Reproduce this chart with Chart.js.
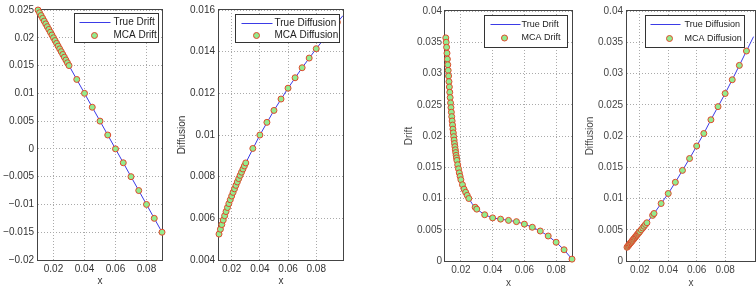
<!DOCTYPE html>
<html>
<head>
<meta charset="utf-8">
<script src="https://cdn.jsdelivr.net/npm/chart.js@4.4.0/dist/chart.umd.min.js"></script>
<style>
html, body { margin: 0; padding: 0; background: #fff; overflow: hidden; }
#wrap { position: relative; width: 756px; height: 296px; overflow: hidden; }
#wrap canvas { position: absolute; top: 0; }
</style>
</head>
<body>
<div id="wrap">
  <canvas id="c1" width="170" height="296" style="left:0px"></canvas>
  <canvas id="c2" width="180" height="296" style="left:172px"></canvas>
  <canvas id="c3" width="182" height="296" style="left:398px"></canvas>
  <canvas id="c4" width="180" height="296" style="left:580px"></canvas>
</div>
<script>
// ---- data ----
// panel 1 : linear drift
var trueDriftX1 = [0.010, 0.090];
var trueDriftY1 = [0.025, -0.015];
var mcaDriftX1 = [0.010, 0.011, 0.012, 0.013, 0.014, 0.015, 0.016, 0.017, 0.018, 0.019, 0.020,
  0.021, 0.022, 0.023, 0.024, 0.025, 0.026, 0.027, 0.028, 0.029, 0.030,
  0.035, 0.040, 0.045, 0.050, 0.055, 0.060, 0.065, 0.070, 0.075, 0.080, 0.085, 0.090];
var mcaDriftY1 = [0.025, 0.0245, 0.024, 0.0235, 0.023, 0.0225, 0.022, 0.0215, 0.021, 0.0205, 0.020,
  0.0195, 0.019, 0.0185, 0.018, 0.0175, 0.017, 0.0165, 0.016, 0.0155, 0.015,
  0.0125, 0.010, 0.0075, 0.005, 0.0025, 0, -0.0025, -0.005, -0.0075, -0.010, -0.0125, -0.015];

// panel 2 : diffusion
var trueDiffX2 = [0.011, 0.015, 0.020, 0.025, 0.030, 0.040, 0.050, 0.060, 0.070, 0.080, 0.090, 0.099];
var trueDiffY2 = [0.005244, 0.006124, 0.007071, 0.007906, 0.008660, 0.010000, 0.011180, 0.012247,
  0.013229, 0.014142, 0.015000, 0.015732];
var mcaDiffX2 = [0.011, 0.012, 0.013, 0.014, 0.015, 0.016, 0.017, 0.018, 0.019, 0.020,
  0.021, 0.022, 0.023, 0.024, 0.025, 0.026, 0.027, 0.028, 0.029, 0.030,
  0.035, 0.040, 0.045, 0.050, 0.055, 0.060, 0.065, 0.070, 0.075, 0.080, 0.085, 0.090, 0.095];
var mcaDiffY2 = [0.005244, 0.005477, 0.005701, 0.005916, 0.006124, 0.006325, 0.006519, 0.006708, 0.006892, 0.007071,
  0.007246, 0.007416, 0.007583, 0.007746, 0.007906, 0.008062, 0.008216, 0.008367, 0.008515, 0.008660,
  0.009354, 0.010000, 0.010607, 0.011180, 0.011726, 0.012247, 0.012748, 0.013229, 0.013693, 0.014142,
  0.014577, 0.015000, 0.015411];

// panel 3 : nonlinear drift
var trueDriftX3 = [0.0105, 0.011, 0.0115, 0.012, 0.0125, 0.013, 0.0135, 0.014, 0.0145, 0.015, 0.0155,
  0.016, 0.0165, 0.017, 0.0175, 0.018, 0.019, 0.020, 0.021, 0.022, 0.023, 0.024, 0.025, 0.027,
  0.029, 0.030, 0.035, 0.040, 0.045, 0.050, 0.055, 0.060, 0.065, 0.070, 0.075, 0.080, 0.085, 0.090];
var trueDriftY3 = [0.0357, 0.0342, 0.0323, 0.0305, 0.0287, 0.0270, 0.0253, 0.0238, 0.0224, 0.0211, 0.0199,
  0.0188, 0.0178, 0.0169, 0.0161, 0.0154, 0.0141, 0.0130, 0.0122, 0.0115, 0.0110, 0.0105, 0.0100, 0.0092,
  0.0086, 0.0083, 0.0074, 0.0069, 0.0067, 0.0065, 0.0063, 0.0059, 0.0054, 0.0048, 0.0040, 0.0030, 0.0018, 0.0003];
var mcaDriftX3 = [0.0105, 0.01075, 0.011, 0.01125, 0.0115, 0.01175, 0.012, 0.01225, 0.0125, 0.01275,
  0.013, 0.01325, 0.0135, 0.01375, 0.014, 0.01425, 0.0145, 0.01475, 0.015, 0.01525, 0.0155, 0.01575,
  0.016, 0.01625, 0.0165, 0.01675, 0.017, 0.01725, 0.0175, 0.018, 0.0185, 0.019, 0.0195, 0.020,
  0.021, 0.022, 0.023, 0.024, 0.025, 0.029, 0.030,
  0.035, 0.040, 0.045, 0.050, 0.055, 0.060, 0.065, 0.070, 0.075, 0.080, 0.085, 0.090];
var mcaDriftY3 = [0.0357, 0.0350, 0.0342, 0.03325, 0.0323, 0.0314, 0.0305, 0.0296, 0.0287, 0.02785,
  0.0270, 0.02615, 0.0253, 0.02455, 0.0238, 0.0231, 0.0224, 0.02175, 0.0211, 0.0205, 0.0199, 0.01935,
  0.0188, 0.0183, 0.0178, 0.01735, 0.0169, 0.0165, 0.0161, 0.0154, 0.01475, 0.0141, 0.01355, 0.0130,
  0.0122, 0.0115, 0.0110, 0.0105, 0.0100, 0.0086, 0.0083,
  0.0074, 0.0069, 0.0067, 0.0065, 0.0063, 0.0059, 0.0054, 0.0048, 0.0040, 0.0030, 0.0018, 0.0003];

// panel 4 : diffusion
var trueDiffX4 = [0.011, 0.015, 0.020, 0.025, 0.030, 0.035, 0.040, 0.045, 0.050, 0.055, 0.060,
  0.065, 0.070, 0.075, 0.080, 0.085, 0.090, 0.095, 0.100];
var trueDiffY4 = [0.0022, 0.00332, 0.00472, 0.00612, 0.0076, 0.0092, 0.0108, 0.0126, 0.0145, 0.0164, 0.0184,
  0.0204, 0.0226, 0.0247, 0.0268, 0.0290, 0.0313, 0.0336, 0.0359];
var mcaDiffX4 = [0.011, 0.0115, 0.012, 0.0125, 0.013, 0.0135, 0.014, 0.0145, 0.015, 0.0155, 0.016,
  0.0165, 0.017, 0.0175, 0.018, 0.0185, 0.019, 0.0195, 0.020, 0.021, 0.022, 0.023, 0.024, 0.025,
  0.029, 0.030, 0.035, 0.040, 0.045, 0.050, 0.055, 0.060, 0.065, 0.070, 0.075, 0.080, 0.085, 0.090, 0.095];
var mcaDiffY4 = [0.0022, 0.00234, 0.00248, 0.00262, 0.00276, 0.0029, 0.00304, 0.00318, 0.00332, 0.00346, 0.0036,
  0.00374, 0.00388, 0.00402, 0.00416, 0.0043, 0.00444, 0.00458, 0.00472, 0.005, 0.00528, 0.00556, 0.00584, 0.00612,
  0.0073, 0.0076, 0.0092, 0.0108, 0.0126, 0.0145, 0.0164, 0.0184, 0.0204, 0.0226, 0.0247, 0.0268, 0.0290, 0.0313, 0.0336];

// tick values / labels
var xTicks = [0.02, 0.04, 0.06, 0.08];
var xLabels = ['0.02', '0.04', '0.06', '0.08'];
var yTicks1 = [-0.02, -0.015, -0.01, -0.005, 0, 0.005, 0.01, 0.015, 0.02, 0.025];
var yLabels1 = ['\u22120.02', '\u22120.015', '\u22120.01', '\u22120.005', '0', '0.005', '0.01', '0.015', '0.02', '0.025'];
var yTicks2 = [0.004, 0.006, 0.008, 0.01, 0.012, 0.014, 0.016];
var yLabels2 = ['0.004', '0.006', '0.008', '0.01', '0.012', '0.014', '0.016'];
var yTicks34 = [0, 0.005, 0.01, 0.015, 0.02, 0.025, 0.03, 0.035, 0.04];
var yLabels34 = ['0', '0.005', '0.01', '0.015', '0.02', '0.025', '0.03', '0.035', '0.04'];

// ---- drawing ----
var FONT = "'Liberation Sans', Arial, sans-serif";
var BLUE = '#3b3be6';
var GREEN = '#92ec8e';
var RED = '#e0482c';

function pts(xs, ys) {
  return xs.map(function (x, i) { return { x: x, y: ys[i] }; });
}

// axes box + matlab style legend
var boxPlugin = {
  id: 'boxLegend',
  beforeDatasetsDraw: function (chart) {
    var a = chart.chartArea, ctx = chart.ctx;
    ctx.save();
    ctx.strokeStyle = '#444';
    ctx.lineWidth = 1;
    ctx.strokeRect(a.left - 0.5, a.top - 0.5, a.right - a.left + 1, a.bottom - a.top + 1);
    ctx.restore();
  },
  afterDatasetsDraw: function (chart) {
    var lg = chart.options.plugins.boxLegend;
    var a = chart.chartArea, ctx = chart.ctx;
    var ds = chart.data.datasets;
    var bx = Math.round(a.right - lg.right - lg.w) + 0.5;
    var by = Math.round(a.top + lg.top) + 0.5;
    ctx.save();
    ctx.fillStyle = '#fff';
    ctx.strokeStyle = '#333';
    ctx.lineWidth = 1;
    ctx.fillRect(bx, by, lg.w, lg.h);
    ctx.strokeRect(bx, by, lg.w, lg.h);
    ctx.strokeStyle = BLUE;
    ctx.beginPath();
    ctx.moveTo(bx + lg.l0, by + lg.r1);
    ctx.lineTo(bx + lg.l1, by + lg.r1);
    ctx.stroke();
    ctx.beginPath();
    ctx.arc(bx + lg.mx, by + lg.r2, lg.pr, 0, Math.PI * 2);
    ctx.fillStyle = GREEN;
    ctx.fill();
    ctx.strokeStyle = RED;
    ctx.lineWidth = 1;
    ctx.stroke();
    ctx.fillStyle = '#222';
    ctx.font = lg.size + 'px ' + FONT;
    ctx.textBaseline = 'middle';
    ctx.textAlign = 'left';
    ctx.fillText(ds[0].label, bx + lg.tx, by + lg.r1);
    ctx.fillText(ds[1].label, bx + lg.tx, by + lg.r2);
    ctx.restore();
  }
};

function panel(id, p) {
  var grid = { color: '#aaa', drawTicks: false, lineWidth: 1 };
  var border = { display: false, dash: [1, 2] };
  new Chart(document.getElementById(id), {
    type: 'scatter',
    data: {
      datasets: [
        { label: p.lineLabel, data: pts(p.tx, p.ty), showLine: true, pointRadius: 0,
          borderColor: BLUE, borderWidth: 1, order: 1 },
        { label: p.markLabel, data: pts(p.mx, p.my), showLine: false, pointRadius: p.pr,
          backgroundColor: GREEN, borderColor: RED, borderWidth: 1, order: 0, clip: false }
      ]
    },
    options: {
      responsive: false,
      animation: false,
      devicePixelRatio: 1,
      layout: { padding: { left: 0, top: p.top, right: p.right, bottom: 0 } },
      plugins: {
        legend: { display: false },
        tooltip: { enabled: false },
        boxLegend: p.legend
      },
      scales: {
        x: {
          type: 'linear', min: p.xmin, max: p.xmax,
          afterBuildTicks: function (s) { s.ticks = xTicks.map(function (v) { return { value: v }; }); },
          afterFit: function (s) { s.height = p.xh; },
          ticks: { autoSkip: false, maxRotation: 0, padding: 3, color: p.tickColor,
            font: { family: FONT, size: 10 },
            callback: function (v, i) { return xLabels[i]; } },
          grid: grid, border: border,
          title: { display: true, text: 'x', color: p.tickColor, font: { family: FONT, size: 10 },
            padding: { top: 0, bottom: p.xtPad } }
        },
        y: {
          type: 'linear', min: p.ymin, max: p.ymax,
          afterBuildTicks: function (s) { s.ticks = p.yTicks.map(function (v) { return { value: v }; }); },
          afterFit: function (s) { s.width = p.yw; },
          ticks: { autoSkip: false, padding: p.yPad, color: p.tickColor,
            font: { family: FONT, size: 10 },
            callback: function (v, i) { return p.yLabels[i]; } },
          grid: grid, border: border,
          title: { display: !!p.yTitle, text: p.yTitle || '', color: p.tickColor,
            font: { family: FONT, size: 10 }, padding: { top: p.ytPad, bottom: 0 } }
        }
      }
    },
    plugins: [boxPlugin]
  });
}

panel('c1', {
  tx: trueDriftX1, ty: trueDriftY1, mx: mcaDriftX1, my: mcaDriftY1,
  lineLabel: 'True Drift', markLabel: 'MCA Drift',
  xmin: 0.01, xmax: 0.09, ymin: -0.02, ymax: 0.025, yTicks: yTicks1, yLabels: yLabels1,
  top: 8, right: 8, xh: 36, yw: 38, yPad: 4, xtPad: 9, ytPad: 0, pr: 3, tickColor: '#333',
  legend: { w: 84, h: 29, right: 4, top: 3, l0: 5, l1: 36, r1: 9, r2: 22, mx: 20, tx: 39, pr: 3, size: 10 }
});
panel('c2', {
  tx: trueDiffX2, ty: trueDiffY2, mx: mcaDiffX2, my: mcaDiffY2,
  lineLabel: 'True Diffusion', markLabel: 'MCA Diffusion', yTitle: 'Diffusion',
  xmin: 0.011, xmax: 0.099, ymin: 0.004, ymax: 0.016, yTicks: yTicks2, yLabels: yLabels2,
  top: 8, right: 9, xh: 36, yw: 47, yPad: 4, xtPad: 9, ytPad: 4, pr: 3, tickColor: '#333',
  legend: { w: 104, h: 28, right: 4, top: 4, l0: 6, l1: 37, r1: 9, r2: 21, mx: 21, tx: 39, pr: 3, size: 10 }
});
panel('c3', {
  tx: trueDriftX3, ty: trueDriftY3, mx: mcaDriftX3, my: mcaDriftY3,
  lineLabel: 'True Drift', markLabel: 'MCA Drift', yTitle: 'Drift',
  xmin: 0.01, xmax: 0.09, ymin: 0, ymax: 0.04, yTicks: yTicks34, yLabels: yLabels34,
  top: 11, right: 8, xh: 35, yw: 47, yPad: 3, xtPad: 7, ytPad: 5, pr: 3, tickColor: '#444',
  legend: { w: 83, h: 32, right: 5, top: 4, l0: 6, l1: 36, r1: 9, r2: 22.5, mx: 20, tx: 37, pr: 3, size: 9 }
});
panel('c4', {
  tx: trueDiffX4, ty: trueDiffY4, mx: mcaDiffX4, my: mcaDiffY4,
  lineLabel: 'True Diffusion', markLabel: 'MCA Diffusion', yTitle: 'Diffusion',
  xmin: 0.011, xmax: 0.101, ymin: 0, ymax: 0.04, yTicks: yTicks34, yLabels: yLabels34,
  top: 11, right: 2, xh: 35, yw: 47, yPad: 4, xtPad: 7, ytPad: 4, pr: 3, tickColor: '#444',
  legend: { w: 99, h: 32, right: 11, top: 4, l0: 5, l1: 35, r1: 9, r2: 23, mx: 24, tx: 39, pr: 3, size: 9 }
});
</script>
</body>
</html>
